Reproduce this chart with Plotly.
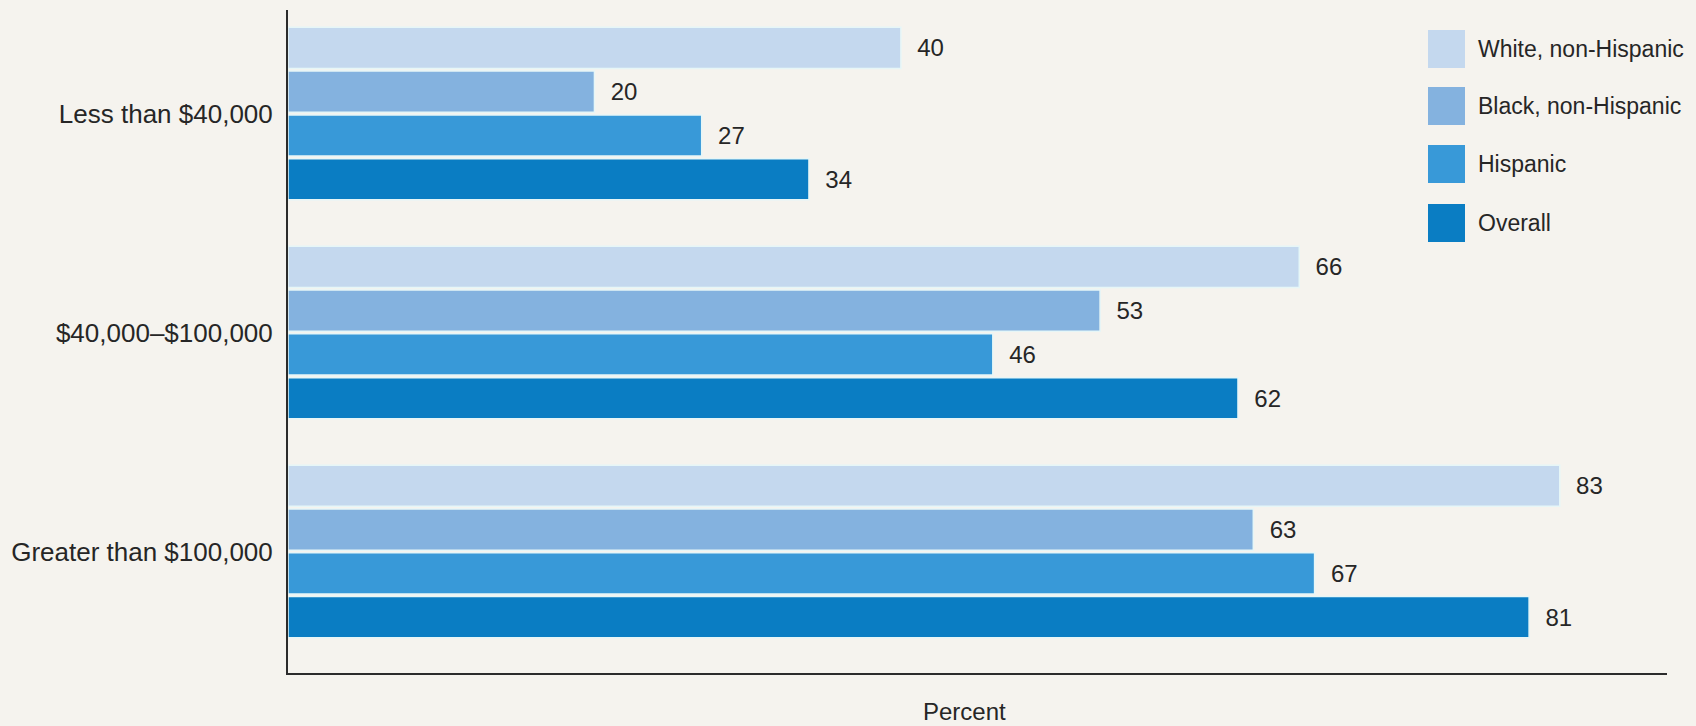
import plotly.graph_objects as go

categories = ["Less than $40,000", "$40,000\u2013$100,000", "Greater than $100,000"]
series_names = ["White, non-Hispanic", "Black, non-Hispanic", "Hispanic", "Overall"]
white = [40, 66, 83]
black = [20, 53, 63]
hispanic = [27, 46, 67]
overall = [34, 62, 81]
series_values = [white, black, hispanic, overall]
colors = ["#c4d8ee", "#84b2df", "#3899d8", "#0a7dc3"]

W, H = 1696, 726
ML, MR, MT, MB = 288, 29, 10, 53
PW, PH = W - ML - MR, H - MT - MB
FONT = "Liberation Sans, Arial, sans-serif"
TXT = "#262626"
BG = "#f5f3ee"


def px_x(px):
    return (px - ML) / PW


def px_y(py):
    return 1 - (py - MT) / PH


fig = go.Figure()
for name, vals, col in zip(series_names, series_values, colors):
    fig.add_trace(go.Bar(
        y=categories, x=vals, name=name, orientation="h",
        marker=dict(color=col, line=dict(color="#e6f6f7", width=1.5)),
        text=vals, texttemplate="  %{x}", textposition="outside",
        textfont=dict(family=FONT, size=24, color=TXT),
        constraintext="none", cliponaxis=False, showlegend=False,
    ))

# manual legend (big swatches)
sw_top = [30, 87, 145, 204]
for name, col, top in zip(series_names, colors, sw_top):
    fig.add_shape(type="rect", xref="paper", yref="paper",
                  x0=px_x(1428), x1=px_x(1465), y0=px_y(top + 38), y1=px_y(top),
                  fillcolor=col, line=dict(width=0))
    fig.add_annotation(xref="paper", yref="paper", x=px_x(1476), y=px_y(top + 19),
                       text=name, showarrow=False, xanchor="left", yanchor="middle",
                       font=dict(family=FONT, size=23, color=TXT))

fig.add_annotation(xref="paper", yref="paper", x=px_x(964), y=px_y(711),
                   text="Percent", showarrow=False, xanchor="center", yanchor="middle",
                   font=dict(family=FONT, size=24, color=TXT))

fig.update_layout(
    width=W, height=H,
    margin=dict(l=ML, r=MR, t=MT, b=MB),
    paper_bgcolor=BG, plot_bgcolor=BG,
    barmode="group", bargap=0.2, bargroupgap=0.06,
    xaxis=dict(range=[0, 90], showgrid=False, zeroline=False, showticklabels=False,
               showline=True, linecolor="#2b2b2b", linewidth=2, ticks=""),
    yaxis=dict(type="category", range=[2.555, -0.473], showgrid=False, zeroline=False,
               showline=True, linecolor="#2b2b2b", linewidth=2, ticks="",
               ticklabelstandoff=8,
               tickfont=dict(family=FONT, size=26, color=TXT)),
)

fig.write_html("out.html")
